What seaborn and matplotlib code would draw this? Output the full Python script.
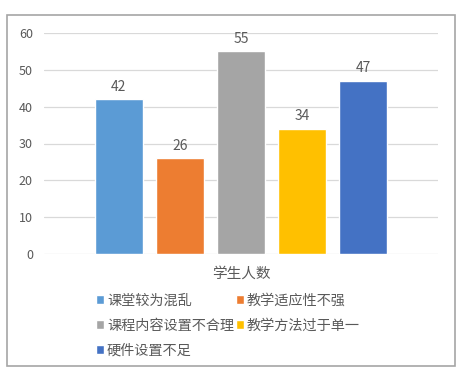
import matplotlib
matplotlib.use("Agg")
import matplotlib.pyplot as plt
import seaborn as sns
import pandas as pd
from matplotlib.patches import Rectangle

categories = ["课堂较为混乱", "教学适应性不强", "课程内容设置不合理", "教学方法过于单一", "硬件设置不足"]
values = [42, 26, 55, 34, 47]
group = ["学生人数"] * len(categories)
colors = ["#5B9BD5", "#ED7D31", "#A5A5A5", "#FFC000", "#4472C4"]
yticks = [0, 10, 20, 30, 40, 50, 60]

sns.set_theme(style="white")
plt.rcParams['font.family'] = ['Noto Sans CJK SC', 'DejaVu Sans']

df = pd.DataFrame({"组": group, "原因": categories, "人数": values})

W, H = 475, 375
fig = plt.figure(figsize=(W / 100, H / 100), dpi=100)
ax = fig.add_axes([44 / W, 1 - 254 / H, (438 - 44) / W, (254 - 33) / H])

sns.barplot(data=df, x="组", y="人数", hue="原因", hue_order=categories,
            palette=colors, width=0.775, gap=0.21, ax=ax, legend=True,
            saturation=1)

txt = "#595959"
ax.set_ylim(0, 60)
ax.set_xlim(-0.5, 0.5)
ax.set_yticks(yticks)
ax.set_yticklabels([str(t) for t in yticks], color=txt, fontsize=9)
ax.tick_params(axis='x', colors=txt, labelsize=10.5, length=0, pad=9)
ax.tick_params(axis='y', length=0, pad=8)
ax.yaxis.grid(True, color="#D9D9D9", linewidth=0.9)
ax.set_axisbelow(True)
for s in ax.spines.values():
    s.set_visible(False)
ax.set_xlabel("")
ax.set_ylabel("")

for cont in ax.containers:
    ax.bar_label(cont, padding=4, color=txt, fontsize=10)

handles, labels = ax.get_legend_handles_labels()
ax.get_legend().remove()
order = [0, 2, 4, 1, 3]
fig.legend([handles[i] for i in order], [labels[i] for i in order],
           ncol=2, loc="upper left", bbox_to_anchor=(90 / W, 1 - 288 / H),
           frameon=False, fontsize=10.2, handlelength=0.6, handleheight=0.6,
           handletextpad=0.2, columnspacing=0.1, labelspacing=0.78,
           labelcolor=txt, borderaxespad=0)

fig.patches.append(Rectangle((7 / W, 1 - 366 / H), (455 - 7) / W, (366 - 15) / H,
                             transform=fig.transFigure, fill=False,
                             edgecolor="#A6A6A6", linewidth=1.2))

fig.savefig("out.png", dpi=100)
